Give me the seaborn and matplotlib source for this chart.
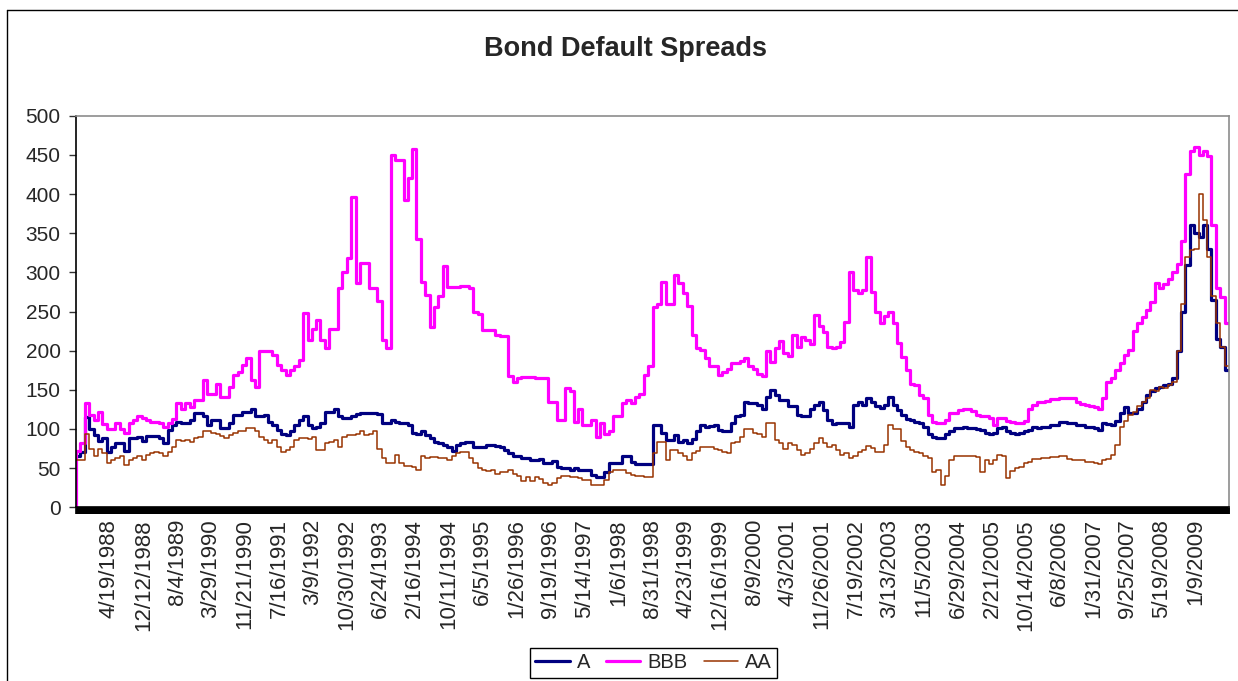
import numpy as np
import pandas as pd
import matplotlib
matplotlib.use("Agg")
import matplotlib.pyplot as plt
import matplotlib.dates as mdates
from matplotlib.lines import Line2D
import seaborn as sns

# Opening print on 1987-08-31, then month-end observations Sep 1987 - Aug 2009
opening_date = "1987-08-31"
month_ends = pd.date_range("1987-09-30", periods=264, freq="ME")
dates = pd.DatetimeIndex([pd.Timestamp(opening_date)]).append(month_ends)

spread_a = [
    65,
    65, 71, 115, 100, 92, 85, 88, 71, 77, 82,
    82, 72, 88, 88, 90, 85, 91, 91, 91, 88,
    82, 99, 105, 109, 108, 108, 111, 120, 120, 116,
    105, 111, 111, 101, 101, 107, 118, 118, 122, 122,
    126, 117, 117, 118, 109, 105, 99, 94, 92, 97,
    105, 111, 117, 105, 101, 103, 107, 122, 122, 126,
    116, 114, 114, 117, 119, 120, 120, 120, 120, 119,
    107, 107, 111, 109, 107, 107, 105, 95, 94, 97,
    92, 88, 84, 82, 80, 77, 72, 80, 82, 83,
    83, 77, 77, 77, 80, 80, 78, 77, 73, 69,
    65, 65, 63, 63, 61, 61, 62, 57, 57, 59,
    51, 50, 50, 48, 50, 48, 48, 47, 41, 39,
    39, 45, 56, 57, 57, 65, 65, 58, 55, 55,
    55, 55, 105, 105, 95, 86, 86, 92, 84, 86,
    82, 87, 97, 105, 103, 104, 105, 99, 98, 98,
    107, 116, 118, 135, 133, 133, 131, 126, 141, 150,
    143, 137, 137, 129, 129, 118, 116, 116, 126, 131,
    135, 124, 111, 106, 107, 108, 107, 102, 130, 135,
    131, 140, 135, 129, 127, 131, 141, 130, 124, 118,
    113, 111, 109, 107, 103, 94, 90, 88, 88, 94,
    97, 101, 101, 103, 101, 101, 100, 99, 95, 94,
    95, 101, 103, 97, 95, 94, 95, 98, 99, 103,
    101, 102, 103, 105, 105, 109, 109, 107, 107, 105,
    105, 103, 102, 101, 99, 107, 106, 105, 110, 120,
    128, 120, 121, 125, 135, 143, 148, 152, 154, 156,
    157, 165, 200, 250, 310, 360, 350, 345, 360, 330,
    265, 215, 205, 175,
]

spread_bbb = [
    0,
    72, 82, 133, 118, 111, 122, 106, 100, 100, 107,
    100, 95, 107, 111, 116, 114, 111, 109, 109, 107,
    102, 107, 113, 133, 126, 133, 128, 137, 137, 162,
    145, 145, 158, 141, 141, 154, 169, 173, 182, 190,
    163, 153, 199, 200, 200, 194, 182, 175, 169, 175,
    180, 188, 248, 214, 228, 239, 214, 204, 228, 228,
    280, 301, 318, 396, 287, 312, 312, 280, 280, 263,
    214, 203, 450, 444, 444, 393, 420, 457, 343, 288,
    271, 230, 256, 270, 308, 281, 281, 281, 283, 283,
    280, 250, 247, 226, 227, 227, 220, 219, 219, 168,
    160, 165, 167, 167, 167, 165, 165, 165, 135, 135,
    111, 111, 152, 148, 109, 126, 105, 105, 111, 90,
    107, 94, 97, 117, 117, 133, 137, 133, 141, 145,
    169, 180, 256, 260, 288, 260, 260, 297, 286, 273,
    257, 220, 204, 201, 190, 180, 180, 169, 173, 177,
    184, 184, 187, 190, 180, 176, 170, 168, 200, 185,
    203, 212, 197, 193, 220, 205, 218, 214, 209, 245,
    231, 224, 205, 204, 205, 211, 237, 300, 277, 273,
    277, 320, 275, 250, 235, 244, 249, 235, 210, 192,
    175, 158, 156, 143, 139, 118, 109, 107, 108, 112,
    120, 121, 124, 125, 125, 123, 118, 117, 116, 114,
    105, 114, 114, 110, 109, 107, 107, 110, 125, 131,
    134, 135, 136, 138, 138, 140, 140, 139, 139, 135,
    132, 131, 129, 128, 126, 140, 160, 165, 175, 184,
    195, 201, 225, 235, 243, 252, 262, 287, 280, 285,
    292, 300, 311, 340, 425, 455, 460, 450, 455, 448,
    360, 280, 268, 235,
]

spread_aa = [
    60,
    60, 61, 94, 75, 65, 75, 69, 57, 60, 63,
    65, 54, 60, 63, 65, 61, 67, 69, 71, 69,
    65, 71, 77, 86, 85, 86, 84, 88, 90, 97,
    97, 95, 93, 91, 89, 92, 95, 97, 97, 101,
    101, 97, 90, 86, 82, 86, 77, 71, 73, 77,
    86, 88, 88, 87, 90, 73, 73, 82, 84, 86,
    77, 90, 92, 92, 94, 97, 92, 94, 97, 75,
    63, 57, 57, 67, 57, 53, 53, 51, 48, 65,
    63, 64, 64, 63, 63, 61, 65, 69, 71, 71,
    63, 56, 50, 48, 46, 48, 43, 45, 45, 48,
    43, 40, 34, 39, 34, 39, 36, 31, 28, 31,
    37, 40, 40, 39, 39, 38, 35, 35, 28, 28,
    28, 35, 45, 48, 48, 47, 44, 41, 40, 40,
    39, 39, 69, 84, 84, 60, 73, 73, 69, 65,
    60, 69, 72, 77, 77, 77, 74, 73, 71, 69,
    82, 84, 90, 100, 100, 95, 94, 90, 107, 107,
    86, 82, 75, 82, 80, 73, 67, 69, 75, 82,
    88, 82, 77, 80, 73, 67, 69, 63, 66, 71,
    73, 78, 76, 71, 70, 80, 105, 100, 100, 85,
    77, 73, 71, 69, 65, 63, 45, 48, 28, 40,
    60, 65, 65, 65, 65, 65, 64, 45, 61, 55,
    61, 67, 66, 38, 46, 50, 52, 56, 58, 62,
    62, 63, 63, 64, 64, 65, 65, 62, 61, 60,
    60, 58, 58, 57, 55, 60, 62, 67, 80, 103,
    110, 118, 122, 129, 135, 140, 150, 148, 154, 152,
    156, 160, 200, 260, 320, 328, 330, 400, 367, 320,
    270, 235, 205, 180,
]

series_names = ["A", "BBB", "AA"]
series_colors = {"A": "#000080", "BBB": "#FF00FF", "AA": "#993300"}
series_widths = {"A": 2.3, "BBB": 2.3, "AA": 1.1}

tick_labels = [
    "4/19/1988", "12/12/1988", "8/4/1989", "3/29/1990", "11/21/1990",
    "7/16/1991", "3/9/1992", "10/30/1992", "6/24/1993", "2/16/1994",
    "10/11/1994", "6/5/1995", "1/26/1996", "9/19/1996", "5/14/1997",
    "1/6/1998", "8/31/1998", "4/23/1999", "12/16/1999", "8/9/2000",
    "4/3/2001", "11/26/2001", "7/19/2002", "3/13/2003", "11/5/2003",
    "6/29/2004", "2/21/2005", "10/14/2005", "6/8/2006", "1/31/2007",
    "9/25/2007", "5/19/2008", "1/9/2009",
]

frame = pd.DataFrame({"date": dates, "A": spread_a, "BBB": spread_bbb, "AA": spread_aa})

sns.set_style("ticks")
plt.rcParams["font.family"] = ["Liberation Sans", "DejaVu Sans"]

fig = plt.figure(figsize=(12.38, 6.81), dpi=100)
ax = fig.add_axes([76 / 1238, 1 - 507.3 / 681, (1229 - 76) / 1238, (507.3 - 115.7) / 681])

for name in series_names:
    sns.lineplot(data=frame, x="date", y=name, ax=ax, color=series_colors[name],
                 linewidth=series_widths[name], drawstyle="steps-pre", label=name,
                 legend=False)

ax.set_xlim(dates[0], dates[-1])
ax.set_ylim(0, 500)
ax.set_yticks(np.arange(0, 501, 50))
ax.set_xlabel("")
ax.set_ylabel("")

tick_dates = pd.to_datetime(tick_labels, format="%m/%d/%Y")
ax.set_xticks(tick_dates)
ax.set_xticklabels(tick_labels, rotation=90, fontsize=16)
ax.xaxis.set_minor_locator(mdates.DayLocator(interval=3))
ax.tick_params(axis="x", which="both", length=5, width=1.2, color="black",
               direction="out", pad=3.5)
ax.tick_params(axis="y", length=5, width=1, color="#333333", labelsize=15, pad=6)

for side in ("top", "right"):
    ax.spines[side].set_color("#8c8c8c")
    ax.spines[side].set_linewidth(1.2)
for side in ("left", "bottom"):
    ax.spines[side].set_color("black")
    ax.spines[side].set_linewidth(1.2)

fig.text(625.5 / 1238, 1 - 48.5 / 681, "Bond Default Spreads", ha="center", va="center",
         fontsize=19.5, fontweight="bold")

handles = [Line2D([], [], color=series_colors[n], linewidth=series_widths[n]) for n in series_names]
leg = fig.legend(handles, series_names, loc="center", bbox_to_anchor=(653.5 / 1238, 1 - 663 / 681),
                 ncol=3, frameon=True, fancybox=False, edgecolor="black", framealpha=1,
                 fontsize=14.5, handlelength=1.7, handletextpad=0.35, columnspacing=0.8,
                 borderpad=0.25)
leg.get_frame().set_linewidth(1.0)

# chart-area border (top and left edges)
fig.add_artist(Line2D([7 / 1238, 7 / 1238], [0, 1 - 10 / 681], transform=fig.transFigure,
                      color="black", linewidth=1))
fig.add_artist(Line2D([7 / 1238, 1], [1 - 10 / 681, 1 - 10 / 681], transform=fig.transFigure,
                      color="black", linewidth=1))

fig.savefig("out.png", dpi=100, facecolor="white")
